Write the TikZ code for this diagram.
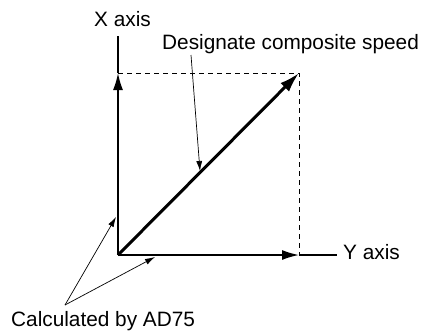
\documentclass[tikz,border=0pt]{standalone}
\usepackage{fontspec}
\setmainfont{Liberation Sans}
\usetikzlibrary{arrows.meta}
\begin{document}
\begin{tikzpicture}[x=1pt,y=-1pt,
  lbl/.style={inner sep=0pt,anchor=base west,font=\fontsize{20.8}{25}\selectfont},
  axisline/.style={line width=1.6pt},
  bigtip/.style={-{Latex[length=17pt,width=10pt]}},
  thin/.style={line width=0.7pt,-{Latex[length=10pt,width=6pt]}},
  guide/.style={line width=0.9pt,dash pattern=on 5pt off 4pt}]
\useasboundingbox (0,0) rectangle (422,333);
\coordinate (O) at (118,255);
\coordinate (Xtop) at (118,36);
\coordinate (Xm) at (118,73);
\coordinate (Yend) at (337,255);
\coordinate (Ym) at (299,255);
\coordinate (P) at (299,73);
% guides
\draw[guide] (Xm) -- (P) -- (Ym);
% axes
\draw[axisline] (Xm) -- (Xtop);
\draw[axisline,bigtip] (O) -- (Xm);
\draw[axisline] (Ym) -- (Yend);
\draw[axisline,bigtip] (O) -- (Ym);
% composite
\draw[line width=3pt,-{Latex[length=20pt,width=12pt]}] (O) -- (P);
% labels
\node[lbl] (xl) at (94,26) {X axis};
\node[lbl] (yl) at (343,259) {Y axis};
\node[lbl] (dl) at (162,49) {Designate composite speed};
\node[lbl] (cl) at (11,326) {Calculated by AD75};
% pointers
\coordinate (ds) at (191,55);
\coordinate (de) at (200,171);
\coordinate (cs) at (65,305);
\coordinate (c1) at (116,217);
\coordinate (c2) at (155,257);
\draw[thin] (ds) -- (de);
\draw[thin] (cs) -- (c1);
\draw[thin] (cs) -- (c2);
\end{tikzpicture}
\end{document}
